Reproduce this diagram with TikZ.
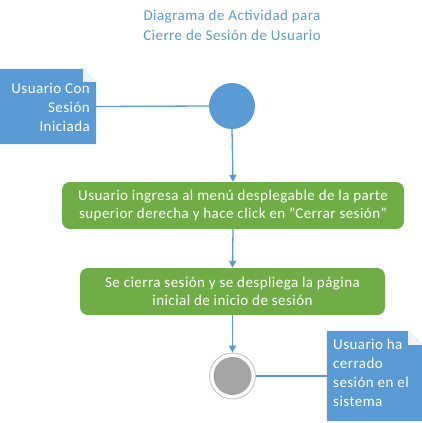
\documentclass[tikz,border=0pt]{standalone}
\usepackage{fontspec}
\setmainfont{Carlito}[LetterSpace=3]
\usetikzlibrary{arrows.meta}
\definecolor{ublue}{HTML}{5B9BD5}
\definecolor{ugreen}{HTML}{70AD47}
\definecolor{ugray}{HTML}{A5A5A5}
\definecolor{fold}{HTML}{EEF4FB}
\tikzset{
  conn/.style={draw=ublue, line width=1.3pt},
  arr/.style={conn, -{Triangle[length=7pt,width=7pt]}},
  actbox/.style={fill=ugreen, rounded corners=8pt, text=white, align=center, inner sep=0pt, font=\fontsize{15}{17.5}\selectfont},
  notetext/.style={text=white, font=\fontsize{15}{19}\selectfont, inner sep=0pt},
  notearea/.style={inner sep=0pt},
}
\begin{document}
\begin{tikzpicture}[x=1pt,y=-1pt]
\useasboundingbox (0,0) rectangle (422,423);
% title
\node[text=ublue, align=center, font=\fontsize{15}{20}\selectfont] (title) at (232,25) {Diagrama de Actividad para\\Cierre de Sesión de Usuario};
% note 1
\node[notearea, minimum width=96pt, minimum height=75pt] (n1) at (48,106.5) {};
\fill[ublue] (n1.south west) -- (n1.north west) -- ([xshift=-13pt]n1.north east) -- ([yshift=-13pt]n1.north east) -- (n1.south east) -- cycle;
\fill[fold] ([xshift=-13pt]n1.north east) -- ([yshift=-13pt]n1.north east) -- ([xshift=-13pt,yshift=-13pt]n1.north east) -- cycle;
\node[notetext, anchor=east, align=right] (n1t) at (90,107) {Usuario Con\\Sesión\\Iniciada};
% start
\node[circle, fill=ublue, minimum size=46pt, inner sep=0pt] (s) at (232,106) {};
% actions
\node[actbox, minimum width=342pt, minimum height=47pt] (a1) at (233,205.5) {Usuario ingresa al menú desplegable de la parte\\superior derecha y hace click en "Cerrar sesión"};
\node[actbox, minimum width=305pt, minimum height=47pt] (a2) at (232.5,291.5) {Se cierra sesión y se despliega la página\\inicial de inicio de sesión};
% end
\node[circle, draw=ugray!70, fill=white, line width=0.8pt, minimum size=46pt, inner sep=0pt] (e) at (232.5,376) {};
\node[circle, fill=ugray, minimum size=38pt, inner sep=0pt] (ei) at (e) {};
% note 2
\node[notearea, minimum width=95pt, minimum height=90pt] (n2) at (374.5,376) {};
\fill[ublue] (n2.south west) -- (n2.north west) -- ([xshift=-14pt]n2.north east) -- ([yshift=-14pt]n2.north east) -- (n2.south east) -- cycle;
\fill[fold] ([xshift=-14pt]n2.north east) -- ([yshift=-14pt]n2.north east) -- ([xshift=-14pt,yshift=-14pt]n2.north east) -- cycle;
\node[notetext, anchor=north west, align=left] (n2t) at (333,339) {Usuario ha\\cerrado\\sesión en el\\sistema};
% connectors
\draw[conn] (n1.east) -- (s.west);
\draw[arr] (s.south) -- (a1.north);
\draw[arr] (a1.south) -- (a2.north);
\draw[arr] (a2.south) -- (e.north);
\draw[conn] (e.east) -- (n2.west |- e.east);
\end{tikzpicture}
\end{document}
